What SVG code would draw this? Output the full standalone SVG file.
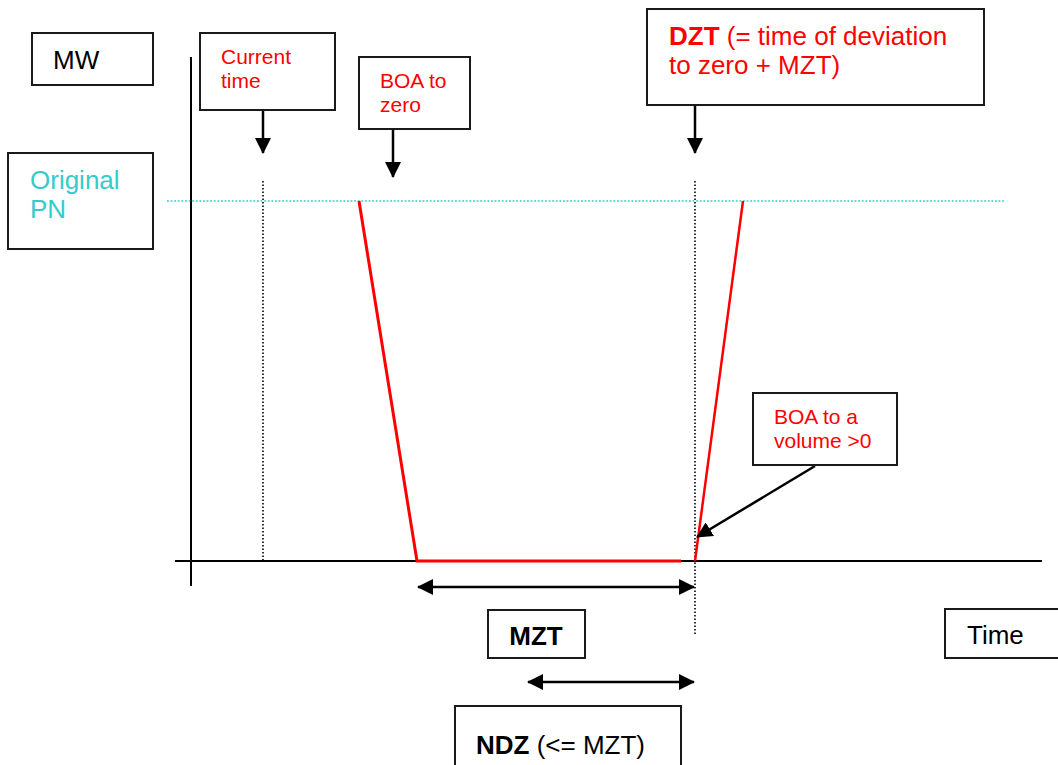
<svg xmlns="http://www.w3.org/2000/svg" width="1058" height="765" viewBox="0 0 1058 765">
<defs>
<style>
.box{fill:#fff;stroke:#1a1a1a;stroke-width:2}
.t{font-family:"Liberation Sans",Arial,sans-serif}
.red{fill:#ff0000;font-size:21px}
.big{font-size:26px}
.blk{fill:#000}
.cy{fill:#33cccc}
.arr{stroke:#000;stroke-width:2.5;fill:none}
.dot{stroke:#000;stroke-width:1.6;stroke-dasharray:1.6 1.9;fill:none}
.axis{stroke:#000;stroke-width:2;fill:none}
</style>
<marker id="ah" markerUnits="userSpaceOnUse" markerWidth="16" markerHeight="16" viewBox="0 0 16 16" refX="15" refY="8" orient="auto-start-reverse">
<path d="M0,0 L16,8 L0,16 Z" fill="#000"/>
</marker>
</defs>
<rect width="1058" height="765" fill="#fff"/>

<g id="axes">
<line class="axis" x1="191" y1="57" x2="191" y2="586"/>
<line class="axis" x1="175" y1="561" x2="1042" y2="561"/>
</g>

<g id="guides">
<line x1="167" y1="201" x2="1005" y2="201" stroke="#33cccc" stroke-width="1.6" stroke-dasharray="1.8 1.8"/>
<line class="dot" x1="263" y1="181" x2="263" y2="561"/>
<line class="dot" x1="695" y1="181" x2="695" y2="634"/>
</g>

<g id="profile">
<polyline points="359,201 417,561 681,561" fill="none" stroke="#ff0000" stroke-width="3"/>
<line x1="695" y1="561" x2="743" y2="201" stroke="#ff0000" stroke-width="2.5"/>
</g>

<g id="connectors">
<line class="arr" x1="263" y1="110" x2="263" y2="153" marker-end="url(#ah)"/>
<line class="arr" x1="393" y1="129" x2="393" y2="177" marker-end="url(#ah)"/>
<line class="arr" x1="695" y1="106" x2="695" y2="153" marker-end="url(#ah)"/>
<line class="arr" x1="815" y1="466" x2="697" y2="537" marker-end="url(#ah)"/>
<line class="arr" x1="418" y1="587" x2="694" y2="587" marker-start="url(#ah)" marker-end="url(#ah)"/>
<line class="arr" x1="528" y1="682" x2="694" y2="682" marker-start="url(#ah)" marker-end="url(#ah)"/>
</g>

<g id="mw">
<rect class="box" x="32" y="33" width="121" height="52"/>
<text class="t big blk" x="53" y="69">MW</text>
</g>

<g id="original-pn">
<rect class="box" x="8" y="153" width="145" height="96"/>
<text class="t big cy" x="30" y="189">Original</text>
<text class="t big cy" x="30" y="218">PN</text>
</g>

<g id="current-time">
<rect class="box" x="200" y="33" width="135" height="77"/>
<text class="t red" x="221" y="64">Current</text>
<text class="t red" x="221" y="88">time</text>
</g>

<g id="boa-zero">
<rect class="box" x="359" y="57" width="111" height="72"/>
<text class="t red" x="380" y="88">BOA to</text>
<text class="t red" x="380" y="112">zero</text>
</g>

<g id="dzt">
<rect class="box" x="647" y="9" width="337" height="96"/>
<text class="t big" fill="#ff0000" x="669" y="45"><tspan font-weight="bold">DZT</tspan> (= time of deviation</text>
<text class="t big" fill="#ff0000" x="669" y="74">to zero + MZT)</text>
</g>

<g id="boa-volume">
<rect class="box" x="753" y="393" width="144" height="72"/>
<text class="t red" x="774" y="424">BOA to a</text>
<text class="t red" x="774" y="448">volume &gt;0</text>
</g>

<g id="mzt">
<rect class="box" x="488" y="610" width="97" height="48"/>
<text class="t big blk" x="536" y="645" font-weight="bold" text-anchor="middle">MZT</text>
</g>

<g id="ndz">
<rect class="box" x="455" y="706" width="226" height="70"/>
<text class="t big blk" x="476" y="754"><tspan font-weight="bold">NDZ</tspan> (&lt;= MZT)</text>
</g>

<g id="time">
<rect class="box" x="945" y="609" width="125" height="49"/>
<text class="t big blk" x="967" y="644">Time</text>
</g>
</svg>
